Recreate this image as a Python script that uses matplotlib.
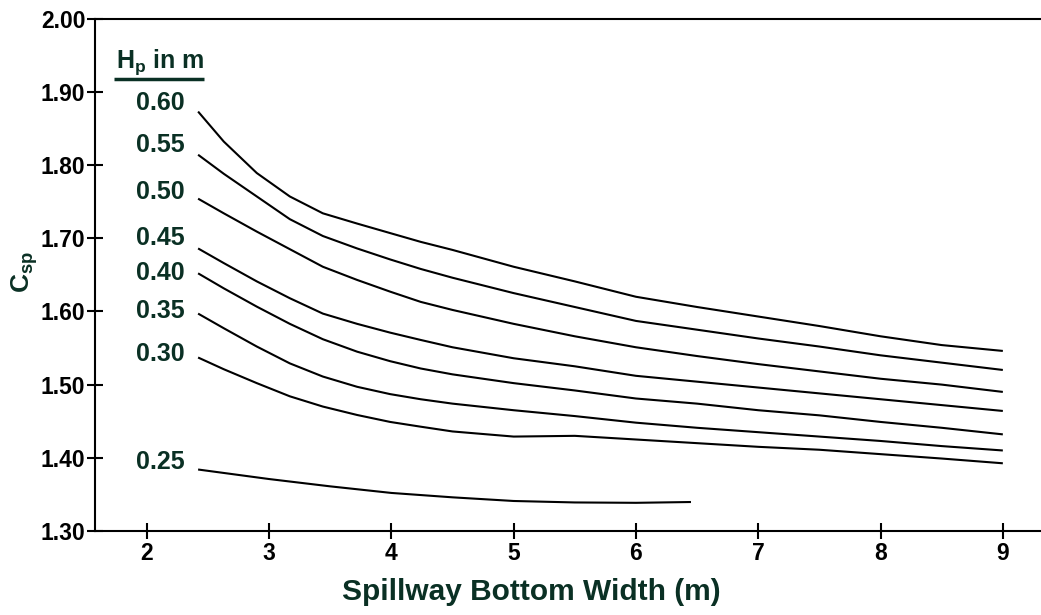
import matplotlib
matplotlib.use("Agg")
import matplotlib.pyplot as plt

plt.rcParams['font.family'] = ['Liberation Sans', 'DejaVu Sans']
plt.rcParams['mathtext.fontset'] = 'custom'
plt.rcParams['mathtext.rm'] = 'Liberation Sans:bold'
plt.rcParams['mathtext.it'] = 'Liberation Sans:bold'
plt.rcParams['mathtext.bf'] = 'Liberation Sans:bold'

# ---- data ----
x_vals = [2.42, 2.63, 2.90, 3.17, 3.44, 3.72, 3.99, 4.24, 4.5, 5.0, 5.5, 6.0,
          6.5, 7.0, 7.5, 8.0, 8.5, 9.0]

c_060 = [1.873, 1.832, 1.789, 1.757, 1.734, 1.720, 1.707, 1.695, 1.684, 1.661,
         1.641, 1.620, 1.606, 1.593, 1.580, 1.566, 1.554, 1.546]
c_055 = [1.814, 1.788, 1.757, 1.726, 1.703, 1.686, 1.671, 1.658, 1.646, 1.625,
         1.606, 1.587, 1.575, 1.563, 1.552, 1.540, 1.530, 1.520]
c_050 = [1.754, 1.734, 1.709, 1.685, 1.661, 1.643, 1.627, 1.613, 1.602, 1.583,
         1.566, 1.551, 1.539, 1.528, 1.518, 1.508, 1.500, 1.490]
c_045 = [1.686, 1.666, 1.641, 1.618, 1.597, 1.583, 1.571, 1.561, 1.551, 1.536,
         1.525, 1.512, 1.504, 1.496, 1.488, 1.480, 1.472, 1.464]
c_040 = [1.652, 1.6315, 1.6065, 1.583, 1.562, 1.545, 1.532, 1.522, 1.514, 1.502,
         1.492, 1.481, 1.474, 1.465, 1.458, 1.449, 1.441, 1.432]
c_035 = [1.597, 1.577, 1.552, 1.529, 1.511, 1.497, 1.487, 1.480, 1.474, 1.465,
         1.457, 1.448, 1.441, 1.435, 1.429, 1.423, 1.416, 1.410]
c_030 = [1.537, 1.521, 1.502, 1.484, 1.470, 1.4585, 1.449, 1.4425, 1.436, 1.429,
         1.430, 1.425, 1.420, 1.415, 1.411, 1.405, 1.399, 1.3925]

x_025 = [2.42, 3.0, 3.5, 4.0, 4.5, 5.0, 5.5, 6.0, 6.45]
c_025 = [1.384, 1.371, 1.361, 1.352, 1.346, 1.341, 1.339, 1.3385, 1.3396]

curve_labels = ['0.60', '0.55', '0.50', '0.45', '0.40', '0.35', '0.30', '0.25']
label_y = [1.885, 1.827, 1.763, 1.700, 1.6525, 1.6005, 1.542, 1.394]

x_ticks = [2, 3, 4, 5, 6, 7, 8, 9]
y_ticks = [1.30, 1.40, 1.50, 1.60, 1.70, 1.80, 1.90, 2.00]

text_color = '#0a3024'

fig = plt.figure(figsize=(10.41, 6.15), dpi=100)
ax = fig.add_axes([95/1041, 84/615, 1 - 95/1041, (531 - 18.6)/615])

for ys in [c_060, c_055, c_050, c_045, c_040, c_035, c_030]:
    ax.plot(x_vals, ys, color='black', lw=1.5, solid_capstyle='butt',
            solid_joinstyle='round')
ax.plot(x_025, c_025, color='black', lw=1.5, solid_capstyle='butt',
        solid_joinstyle='round')

for lab, ly in zip(curve_labels, label_y):
    ax.text(2.109, ly, lab, ha='center', va='center', fontsize=18,
            fontweight='bold', color=text_color)

ax.text(2.109, 1.9407, r'$H_p$ in m', ha='center', va='center', fontsize=18,
        fontweight='bold', color=text_color)
ax.plot([1.733, 2.47], [1.9175, 1.9175], color=text_color, lw=2.5,
        solid_capstyle='butt')

ax.set_xlim(1.577, 9.312)
ax.set_ylim(1.30, 2.00)
ax.set_xticks(x_ticks)
ax.set_xticklabels([str(t) for t in x_ticks])
ax.set_yticks(y_ticks)
ax.set_yticklabels([f'{t:.2f}' for t in y_ticks])

for lbl in ax.get_xticklabels() + ax.get_yticklabels():
    lbl.set_fontweight('bold')
    lbl.set_fontsize(16.5)
    lbl.set_color('black')

ax.tick_params(axis='both', direction='inout', length=12, width=1.5, color='black')
ax.tick_params(axis='x', pad=2)
ax.tick_params(axis='y', pad=1)

ax.spines['right'].set_visible(False)
for s in ['left', 'top', 'bottom']:
    ax.spines[s].set_linewidth(1.5)
    ax.spines[s].set_color('black')

ax.set_xlabel('Spillway Bottom Width (m)', fontsize=21.5, fontweight='bold',
              color=text_color)
ax.xaxis.set_label_coords(0.461, -0.092)
ax.set_ylabel(r'$C_{sp}$', fontsize=19, fontweight='bold', color=text_color)
ax.yaxis.set_label_coords(-0.058, 0.505)

fig.savefig('out.png', dpi=100)
